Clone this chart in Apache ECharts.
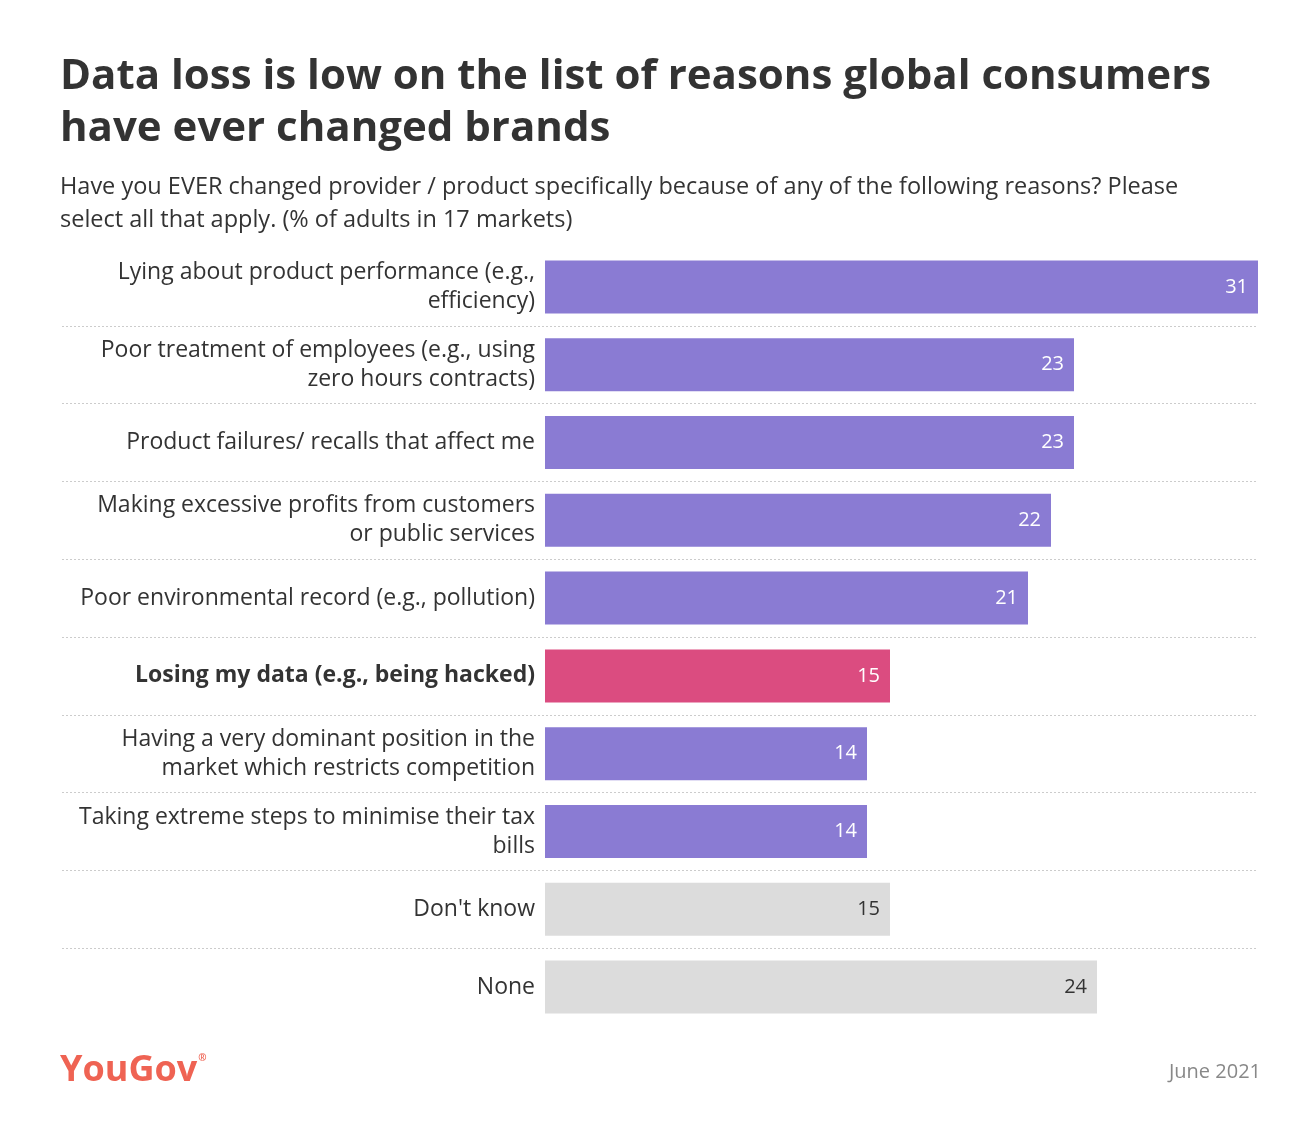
<!DOCTYPE html>
<html>
<head>
<meta charset="utf-8">
<script src="https://cdn.jsdelivr.net/npm/echarts@6/dist/echarts.min.js"></script>
<style>
html,body{margin:0;padding:0;background:#fff;}
#chart{width:1316px;height:1136px;}
</style>
</head>
<body>
<div id="chart"></div>
<script>
const categories = [
  'Lying about product performance (e.g.,\nefficiency)',
  'Poor treatment of employees (e.g., using\nzero hours contracts)',
  'Product failures/ recalls that affect me',
  'Making excessive profits from customers\nor public services',
  'Poor environmental record (e.g., pollution)',
  'Losing my data (e.g., being hacked)',
  'Having a very dominant position in the\nmarket which restricts competition',
  'Taking extreme steps to minimise their tax\nbills',
  "Don't know",
  'None'
];
const values = [31, 23, 23, 22, 21, 15, 14, 14, 15, 24];
const barKinds = ['reason','reason','reason','reason','reason','highlight','reason','reason','other','other'];
const highlightIndex = 5;

const FONT = '"Open Sans", Lato, sans-serif';
const colorByKind = { reason: '#8a7bd3', highlight: '#db4c80', other: '#dcdcdc' };
const labelColorByKind = { reason: '#ffffff', highlight: '#ffffff', other: '#333333' };

const chart = echarts.init(document.getElementById('chart'));
chart.setOption({
  backgroundColor: '#ffffff',
  animation: false,
  title: [
    {
      text: 'Data loss is low on the list of reasons global consumers\nhave ever changed brands',
      left: 60, top: 51, padding: 0,
      textStyle: { fontFamily: FONT, fontSize: 42, fontWeight: 'bold', color: '#333333', lineHeight: 52 }
    },
    {
      text: 'Have you EVER changed provider / product specifically because of any of the following reasons? Please\nselect all that apply. (% of adults in 17 markets)',
      left: 60, top: 171, padding: 0,
      textStyle: { fontFamily: FONT, fontSize: 23.5, fontWeight: 'normal', color: '#333333', lineHeight: 33 }
    },
    {
      text: 'YouGov{r|®}',
      left: 60, top: 1053, padding: 0,
      textStyle: { fontFamily: FONT, fontSize: 36, fontWeight: 'bold', color: '#ef6353',
        rich: { r: { fontFamily: FONT, fontSize: 10, color: '#ef6353', verticalAlign: 'top', padding: [0, 0, 24, 1] } } }
    },
    {
      text: 'June 2021',
      right: 55, top: 1062, padding: 0,
      textStyle: { fontFamily: FONT, fontSize: 20, fontWeight: 'normal', color: '#888888' }
    }
  ],
  grid: [
    { left: 545, right: 58, top: 248, bottom: 110 },
    { left: 62, right: 58, top: 248, bottom: 110 }
  ],
  xAxis: [
    { gridIndex: 0, type: 'value', min: 0, max: 31, show: false },
    { gridIndex: 1, type: 'value', min: 0, max: 1, show: false }
  ],
  yAxis: [
    {
      gridIndex: 0, type: 'category', data: categories, inverse: true,
      axisLine: { show: false }, axisTick: { show: false }, splitLine: { show: false },
      axisLabel: {
        margin: 10, fontFamily: FONT, fontSize: 23, color: '#333333', lineHeight: 29, align: 'right',
        formatter: function (v, i) { return i === highlightIndex ? '{b|' + v + '}' : v; },
        rich: { b: { fontFamily: FONT, fontSize: 23, fontWeight: 'bold', color: '#333333', lineHeight: 29 } }
      }
    },
    {
      gridIndex: 1, type: 'value', min: 0, max: categories.length, interval: 1,
      axisLine: { show: false }, axisTick: { show: false }, axisLabel: { show: false },
      splitLine: { show: true, showMinLine: false, showMaxLine: false, lineStyle: { color: '#cccccc', type: [2, 2], width: 1 } }
    }
  ],
  series: [
    {
      type: 'bar',
      xAxisIndex: 0, yAxisIndex: 0,
      barWidth: 53,
      data: values.map(function (v, i) {
        return {
          value: v,
          itemStyle: { color: colorByKind[barKinds[i]] },
          label: { color: labelColorByKind[barKinds[i]] }
        };
      }),
      label: {
        show: true, position: 'insideRight', distance: 10,
        fontFamily: FONT, fontSize: 20
      }
    }
  ]
});
</script>
</body>
</html>
